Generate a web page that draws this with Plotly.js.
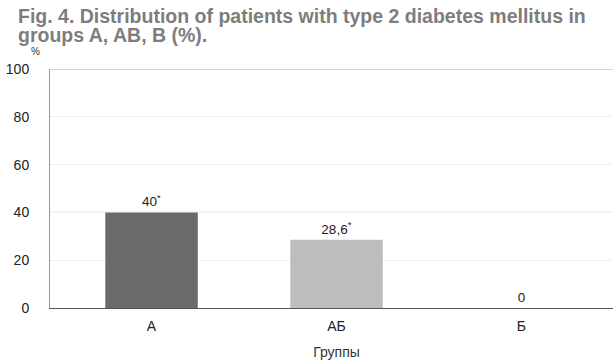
<!DOCTYPE html>
<html><head><meta charset="utf-8">
<script src="https://cdn.plot.ly/plotly-3.0.1.min.js"></script>
<style>html,body{margin:0;padding:0;background:#fff;overflow:hidden;width:613px;height:362px}</style>
</head><body><div id="chart" style="width:623px;height:362px"></div>
<script>
const categories = ["А", "АБ", "Б"];
const values = [40, 28.6, 0];
const valueLabels = ["40<sup>*</sup>", "28,6<sup>*</sup>", "0"];
const barColors = ["#6b6b6b", "#bdbdbd", "#bdbdbd"];
const yTicks = [0, 20, 40, 60, 80, 100];
const titleLines = ["<b>Fig. 4. Distribution of patients with type 2 diabetes mellitus in</b>", "<b>groups A, AB, B (%).</b>"];

const F = "Liberation Sans, Arial";
const PW = 573;
const trace = {
  type: "bar", x: categories, y: values, width: 0.5,
  marker: {color: barColors, line: {width: 0}},
  text: valueLabels, textposition: "outside", cliponaxis: false,
  textfont: {family: F, size: 13.5, color: "#222"},
  hoverinfo: "none"
};
const layout = {
  width: 623, height: 362,
  margin: {l: 50, r: 0, t: 69, b: 54},
  paper_bgcolor: "#fff", plot_bgcolor: "#fff",
  showlegend: false,
  xaxis: {
    range: [-0.549, 2.549], showgrid: false, zeroline: false,
    showline: true, linecolor: "#555", linewidth: 1,
    ticks: "outside", ticklen: 5, tickcolor: "rgba(0,0,0,0)",
    tickfont: {family: F, size: 14, color: "#222"},
    title: {text: "Группы", standoff: 14, font: {family: F, size: 14, color: "#333"}},
    fixedrange: true
  },
  yaxis: {
    range: [0, 100], tickvals: yTicks, ticktext: yTicks.map(String),
    showgrid: true, gridcolor: "#efefef", gridwidth: 1, zeroline: false,
    showline: true, linecolor: "#999", linewidth: 1, mirror: false,
    ticks: "outside", ticklen: 17, tickcolor: "rgba(0,0,0,0)",
    tickfont: {family: F, size: 14, color: "#222"},
    fixedrange: true
  },
  shapes: [
    {type: "line", xref: "paper", yref: "y", x0: 0, x1: 1, y0: 100, y1: 100, line: {color: "#aaa", width: 1}},
    {type: "line", xref: "paper", yref: "y", x0: 0, x1: 1, y0: 40, y1: 40, line: {color: "#bbb", width: 1}, layer: "below"}
  ],
  annotations: [
    {text: titleLines[0], xref: "paper", yref: "paper", x: -34/PW, y: 1, yshift: 53,
     xanchor: "left", yanchor: "middle", align: "left", showarrow: false,
     font: {family: F, size: 19.5, color: "#7d7d7d"}},
    {text: titleLines[1], xref: "paper", yref: "paper", x: -34/PW, y: 1, yshift: 34,
     xanchor: "left", yanchor: "middle", align: "left", showarrow: false,
     font: {family: F, size: 19.5, color: "#7d7d7d"}},
    {text: "%", xref: "paper", yref: "paper", x: -15/PW, y: 1, yshift: 10, xanchor: "center", yanchor: "bottom", showarrow: false,
     font: {family: F, size: 10, color: "#333"}}
  ]
};
Plotly.newPlot("chart", [trace], layout, {displayModeBar: false, staticPlot: true});
</script></body></html>
